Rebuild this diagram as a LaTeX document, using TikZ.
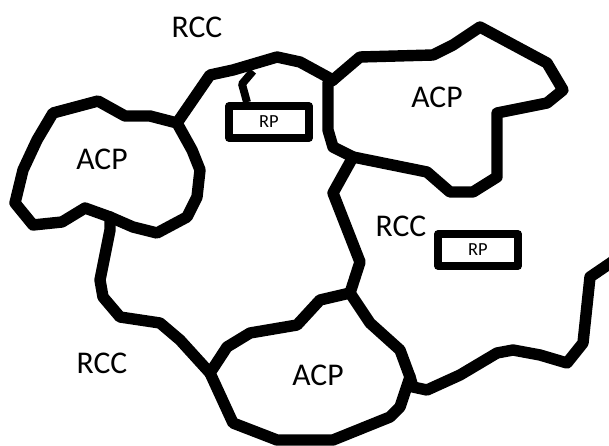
\documentclass[tikz,border=0pt]{standalone}
\usepackage{fontspec}
\setmainfont{Carlito}
\begin{document}
\begin{tikzpicture}[x=0.02cm,y=-0.02cm,
  border/.style={line width=6.5pt,line join=round,line cap=round},
  rpbox/.style={draw,line width=4.3pt,line join=round,minimum width=1.6cm,minimum height=0.64cm,inner sep=0pt,font=\fontsize{10.5}{12}\selectfont},
  lbl/.style={font=\fontsize{18}{21}\selectfont,inner sep=0pt}]
\useasboundingbox (0,0) rectangle (609,446);
% left ACP
\draw[border] (53,113) -- (98,101) -- (125,116) -- (150,116) -- (177,123) -- (192,150) -- (200,170) -- (197,197) -- (187,217) -- (157,233) -- (133,227) -- (110,217) -- (85,208) -- (62,222) -- (33,225) -- (15,203) -- (23,170) -- (37,140) -- cycle;
% top right ACP
\draw[border] (333,80) -- (360,57) -- (433,55) -- (453,45) -- (480,27) -- (547,63) -- (563,90) -- (547,103) -- (497,113) -- (497,177) -- (473,192) -- (450,192) -- (427,172) -- (353,157) -- (333,147) -- (328,130) -- (328,83) -- cycle;
% bottom ACP
\draw[border] (210,373) -- (227,347) -- (250,333) -- (297,325) -- (320,300) -- (350,293) -- (370,323) -- (400,350) -- (410,377) -- (400,407) -- (390,417) -- (333,440) -- (277,440) -- (233,423) -- cycle;
% connecting lines
\draw[border] (177,123) -- (210,75) -- (233,70) -- (277,57) -- (300,62) -- (333,80);
\draw[border] (110,217) -- (110,230) -- (100,280) -- (103,297) -- (120,317) -- (160,323) -- (180,340) -- (210,373);
\draw[border] (353,157) -- (333,193) -- (360,262) -- (350,293);
\draw[border] (410,377) -- (413,387) -- (427,390) -- (460,375) -- (497,353) -- (513,350) -- (540,355) -- (567,363) -- (583,343) -- (590,277) -- (612,262);
% RP boxes
\node[rpbox] (rp1) at (269,122) {RP};
\node[rpbox] (rp2) at (478,250) {RP};
\coordinate (t1) at (253,71);
\draw[line width=4.5pt,line join=round] (t1) -- (242,84) -- (rp1.north -| 247,0);
% labels
\node[lbl] (rcc1) at (197,27) {RCC};
\node[lbl] (rcc2) at (401,226) {RCC};
\node[lbl] (rcc3) at (102,363) {RCC};
\node[lbl] (acp1) at (102,159) {ACP};
\node[lbl] (acp2) at (437,97) {ACP};
\node[lbl] (acp3) at (318,375) {ACP};
\end{tikzpicture}
\end{document}
